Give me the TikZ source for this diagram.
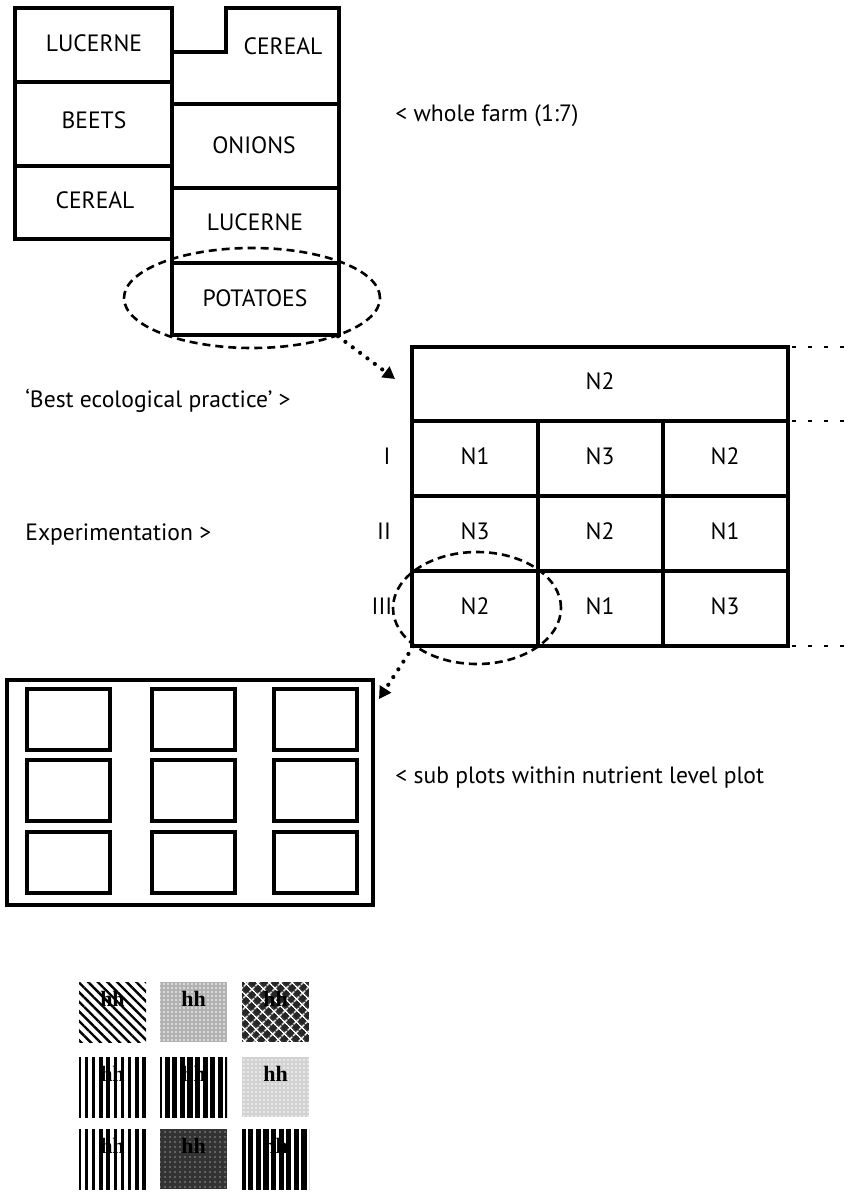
\documentclass[tikz,border=0pt]{standalone}
\usepackage{fontspec}
\setmainfont{PT Sans}
\newfontfamily\hhfont{Liberation Serif}
\usetikzlibrary{arrows.meta,shapes.geometric,patterns.meta}
\tikzset{
  field/.style={line width=1.7pt},
  subcell/.style={line width=2.1pt},
  lab/.style={inner sep=0pt, font=\fontsize{11.8}{13}\selectfont},
  ring/.style={ellipse, draw, inner sep=0pt, line width=1.3pt, dash pattern=on 4pt off 2.5pt},
  dotlink/.style={line width=2.1pt, line cap=round, dash pattern=on 0pt off 4.6pt,
    -{Triangle[length=6pt,width=6.5pt]}},
  trail/.style={line width=1.4pt, dash pattern=on 2pt off 6pt},
  hh/.style={inner sep=0pt, font=\hhfont\bfseries\fontsize{11}{12}\selectfont},
  pa/.style={pattern={Lines[angle=-45,distance=3.4pt,line width=1.2pt]}},
  pb/.style={fill=gray!60, postaction={pattern={Dots[distance=2pt,radius=0.45pt]}, pattern color=white}},
  pc/.style={fill=black!85, postaction={pattern={Hatch[angle=45,distance=4pt,line width=0.8pt]}, pattern color=white}},
  pd/.style={pattern={Lines[angle=90,distance=3.6pt,line width=1.7pt]}},
  pe/.style={pattern={Lines[angle=90,distance=3.8pt,line width=2.6pt]}},
  pf/.style={fill=gray!35, postaction={pattern={Dots[distance=2pt,radius=0.4pt]}, pattern color=white}},
  pg/.style={fill=black!80, postaction={pattern={Dots[distance=2.5pt,radius=0.35pt]}, pattern color=white}}
}
\begin{document}
\begin{tikzpicture}[x=0.5pt,y=-0.5pt]
\useasboundingbox (0,0) rectangle (850,1192);
% whole farm
\draw[field] (15,8) rectangle (172,239) (15,82) -- (172,82) (15,166) -- (172,166);
\draw[field] (172,52) -- (226,52) -- (226,8) -- (339,8) -- (339,335) -- (172,335) -- (172,239)
  (172,104) -- (339,104) (172,188) -- (339,188) (172,263) -- (339,263);
\node[lab] (lucerneW) at (94,43) {LUCERNE};
\node[lab] (cerealE) at (283,46) {CEREAL};
\node[lab] (beets) at (94,120) {BEETS};
\node[lab] (onions) at (254,145) {ONIONS};
\node[lab] (cerealW) at (95,200) {CEREAL};
\node[lab] (lucerneE) at (255,222) {LUCERNE};
\node[lab] (potatoes) at (255,298) {POTATOES};
\node[ring, minimum width=128pt, minimum height=50pt] (potring) at (252,298) {};
\node[lab, anchor=base west] (farmnote) at (395,122) {< whole farm (1:7)};

% nutrient level plots
\draw[field] (412,347) rectangle (788,646) (412,421) -- (788,421) (412,496) -- (788,496)
  (412,571) -- (788,571) (538,421) -- (538,646) (663,421) -- (663,646);
\draw[trail] (792,347) -- (850,347) (792,421) -- (850,421) (792,646) -- (850,646);
\node[lab] (ntop) at (600,381) {N2};
\foreach \a/\b/\c [count=\r] in {N1/N3/N2, N3/N2/N1, N2/N1/N3} {
  \node[lab] (c\r1) at (475,381+75*\r) {\a};
  \node[lab] (c\r2) at (600,381+75*\r) {\b};
  \node[lab] (c\r3) at (725,381+75*\r) {\c};
}
\node[lab] (rowI) at (387,456) {I};
\node[lab] (rowII) at (384,531) {II};
\node[lab] (rowIII) at (382,606) {III};
\node[lab, anchor=base west] (bestnote) at (25,407) {‘Best ecological practice’ >};
\node[lab, anchor=base west] (expnote) at (25,540) {Experimentation >};
\coordinate (tabin) at (395,379);
\draw[dotlink] (potring.-24) -- (tabin);
\node[ring, minimum width=84pt, minimum height=56pt] (nring) at (477,608) {};

% sub plots
\draw[field] (7,680) rectangle (373,905);
\foreach \xx in {27,152,274}
  \foreach \yy in {689,760,832}
    \draw[subcell] (\xx,\yy) rectangle ++(83,61);
\coordinate (boxin) at (379,699);
\draw[dotlink] (nring.211) -- (boxin);
\node[lab, anchor=base west] (subnote) at (395,783) {< sub plots within nutrient level plot};

% treatments
\foreach \xx/\yy/\sty [count=\n] in {79/982/pa, 160/982/pb, 242/982/pc,
    79/1057/pd, 160/1057/pe, 242/1057/pf, 79/1129/pd, 160/1129/pg, 242/1129/pe} {
  \path[\sty] (\xx,\yy) rectangle ++(67,60);
  \node[hh] (hh\n) at (\xx+33.5,\yy+17) {hh};
}
\end{tikzpicture}
\end{document}
